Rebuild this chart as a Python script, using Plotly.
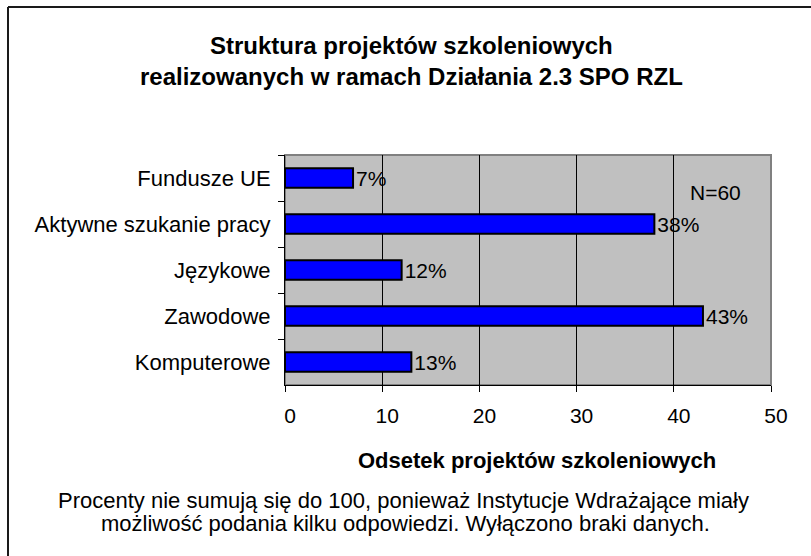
import plotly.graph_objects as go

categories = ["Fundusze UE", "Aktywne szukanie pracy", "Językowe", "Zawodowe", "Komputerowe"]
values = [7, 38, 12, 43, 13]
labels = ["7%", "38%", "12%", "43%", "13%"]
x_ticks = [0, 10, 20, 30, 40, 50]

title_lines = ["Struktura projektów szkoleniowych",
               "realizowanych w ramach Działania 2.3 SPO RZL"]
x_title = "Odsetek projektów szkoleniowych"
note_lines = ["Procenty nie sumują się do 100, ponieważ Instytucje Wdrażające miały",
              "możliwość podania kilku odpowiedzi. Wyłączono braki danych."]
n_text = "N=60"

W, H = 811, 556
L, R, T, B = 285, 40, 155, 171
PW, PH = W - L - R, H - T - B


def px(xp):
    return (xp - L) / PW


def py(yp):
    return (H - B - yp) / PH


FONT = "Liberation Sans, Arial, sans-serif"

fig = go.Figure(go.Bar(
    x=values, y=categories, orientation="h",
    marker=dict(color="#0000FF", line=dict(color="black", width=2)),
    text=labels, textposition="outside", constraintext="none",
    textfont=dict(size=21, color="black", family=FONT),
    cliponaxis=False, hoverinfo="skip",
))

annotations = [
    dict(text="<b>" + title_lines[0] + "</b>", x=px(411), y=py(45), font=dict(size=24)),
    dict(text="<b>" + title_lines[1] + "</b>", x=px(411), y=py(76), font=dict(size=24)),
    dict(text="<b>" + x_title + "</b>", x=px(537), y=py(460), font=dict(size=22)),
    dict(text=note_lines[0], x=px(403), y=py(500), font=dict(size=22)),
    dict(text=note_lines[1], x=px(405), y=py(523), font=dict(size=22)),
    dict(text=n_text, x=px(715), y=py(192), font=dict(size=21)),
]
for a in annotations:
    a.update(xref="paper", yref="paper", xanchor="center", yanchor="middle", showarrow=False)

fig.update_layout(
    width=W, height=H,
    margin=dict(l=L, r=R, t=T, b=B, pad=0),
    paper_bgcolor="white", plot_bgcolor="#C0C0C0",
    bargap=0.58, showlegend=False,
    font=dict(family=FONT, color="black", size=21),
    xaxis=dict(range=[0, 50], tickvals=x_ticks, showgrid=True, gridcolor="black",
               gridwidth=1, zeroline=False, showline=True, linecolor="black", linewidth=1,
               ticks="outside", ticklen=6, tickcolor="black",
               tickfont=dict(size=21), ticklabelstandoff=6, ticklabelshift=5),
    yaxis=dict(autorange="reversed", showgrid=False, zeroline=False, showline=True,
               linecolor="black", linewidth=1, ticks="outside", tickson="boundaries",
               ticklen=6, tickcolor="black", tickfont=dict(size=22),
               ticklabelstandoff=9),
    shapes=[
        dict(type="rect", xref="paper", yref="paper", x0=0, x1=1, y0=0, y1=1,
             line=dict(color="#808080", width=2), layer="below"),
        dict(type="line", xref="paper", yref="paper", x0=px(8), x1=px(W + 5),
             y0=py(7), y1=py(7), line=dict(color="#1a1a1a", width=2)),
        dict(type="line", xref="paper", yref="paper", x0=px(8), x1=px(8),
             y0=py(7), y1=py(H + 5), line=dict(color="#1a1a1a", width=2)),
    ],
    annotations=annotations,
)

fig.write_html("out.html", config={"displayModeBar": False},
               post_script="document.body.style.margin='0';")
